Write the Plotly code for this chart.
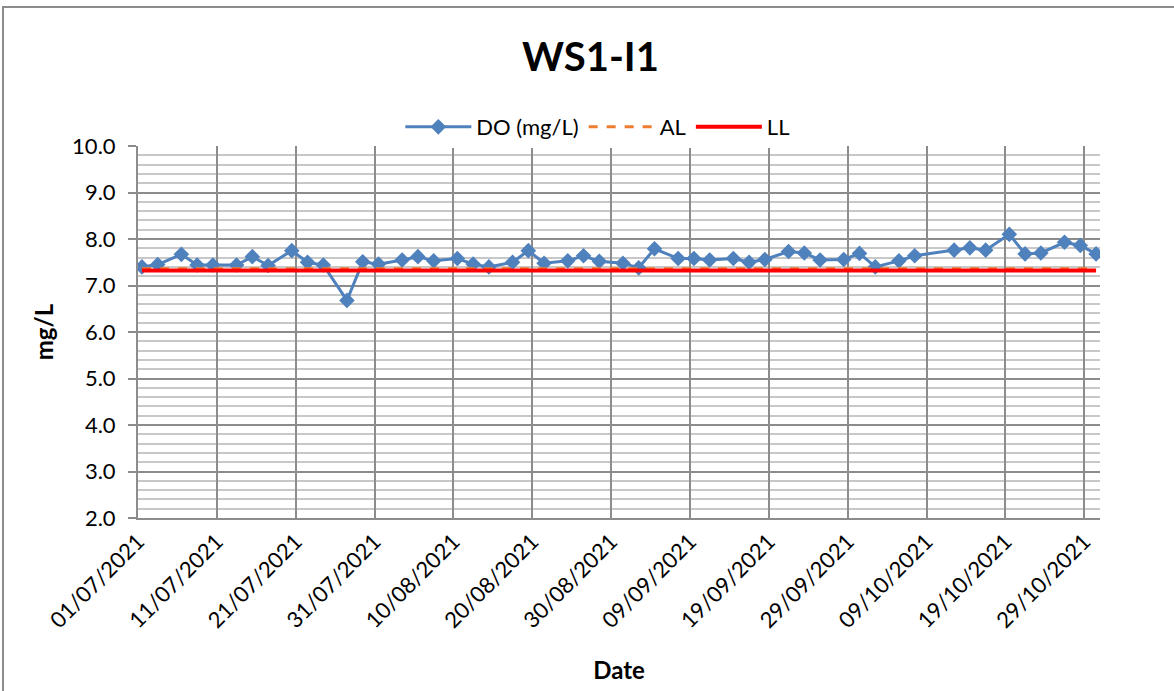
import pandas as pd
import plotly.graph_objects as go

# ---- data ----
dates = ["01/07/2021", "03/07/2021", "06/07/2021", "08/07/2021", "10/07/2021", "13/07/2021",
         "15/07/2021", "17/07/2021", "20/07/2021", "22/07/2021", "24/07/2021", "27/07/2021",
         "29/07/2021", "31/07/2021", "03/08/2021", "05/08/2021", "07/08/2021", "10/08/2021",
         "12/08/2021", "14/08/2021", "17/08/2021", "19/08/2021", "21/08/2021", "24/08/2021",
         "26/08/2021", "28/08/2021", "31/08/2021", "02/09/2021", "04/09/2021", "07/09/2021",
         "09/09/2021", "11/09/2021", "14/09/2021", "16/09/2021", "18/09/2021", "21/09/2021",
         "23/09/2021", "25/09/2021", "28/09/2021", "30/09/2021", "02/10/2021", "05/10/2021",
         "07/10/2021", "12/10/2021", "14/10/2021", "16/10/2021", "19/10/2021", "21/10/2021",
         "23/10/2021", "26/10/2021", "28/10/2021", "30/10/2021"]
do_values = [7.40, 7.45, 7.67, 7.44, 7.44, 7.44, 7.62, 7.43, 7.75, 7.50, 7.44, 6.68,
             7.51, 7.46, 7.55, 7.62, 7.53, 7.58, 7.46, 7.40, 7.50, 7.75, 7.48, 7.53,
             7.64, 7.52, 7.48, 7.38, 7.79, 7.58, 7.58, 7.55, 7.58, 7.50, 7.56, 7.73,
             7.70, 7.55, 7.56, 7.69, 7.40, 7.53, 7.64, 7.76, 7.81, 7.76, 8.10, 7.68,
             7.70, 7.93, 7.86, 7.68]
al_value = 7.36
ll_value = 7.32
tick_labels = ["01/07/2021", "11/07/2021", "21/07/2021", "31/07/2021", "10/08/2021",
               "20/08/2021", "30/08/2021", "09/09/2021", "19/09/2021", "29/09/2021",
               "09/10/2021", "19/10/2021", "29/10/2021"]
axis_start = "01/07/2021"
axis_end = "31/10/2021"

# Excel date axis places each point in the middle of its day
x = pd.to_datetime(dates, format="%d/%m/%Y") + pd.Timedelta(hours=12)
tickvals = pd.to_datetime(tick_labels, format="%d/%m/%Y")
xr = [pd.to_datetime(axis_start, format="%d/%m/%Y"), pd.to_datetime(axis_end, format="%d/%m/%Y")]

FONT = "Lato"
fig = go.Figure()
fig.add_trace(go.Scatter(x=x, y=do_values, name="DO (mg/L)", mode="lines+markers",
                         line=dict(color="#4F81BD", width=3),
                         marker=dict(symbol="diamond", size=12, color="#4F81BD")))
fig.add_trace(go.Scatter(x=[x[0], x[-1]], y=[al_value, al_value], name="AL", mode="lines",
                         line=dict(color="#ED7D31", width=3, dash="dash")))
fig.add_trace(go.Scatter(x=[x[0], x[-1]], y=[ll_value, ll_value], name="LL", mode="lines",
                         line=dict(color="#FF0000", width=4)))

fig.update_layout(
    width=1174, height=691,
    margin=dict(l=138, r=74, t=146, b=173),
    paper_bgcolor="white", plot_bgcolor="white",
    font=dict(family=FONT, size=22, color="black"),
    title=dict(text="<b>WS1-I1</b>", x=0.503, xanchor="center", y=0.918, yanchor="middle",
               font=dict(family=FONT, size=40, color="black")),
    showlegend=True,
    legend=dict(orientation="h", x=0.478, xanchor="center", y=1.051, yanchor="middle",
                font=dict(family=FONT, size=22), itemwidth=66, tracegroupgap=0),
    shapes=[dict(type="rect", xref="paper", yref="paper",
                 x0=(3 - 138) / 962, x1=(1180 - 138) / 962,
                 y0=(518 - 700) / 372, y1=(518 - 7) / 372,
                 line=dict(color="#8C8C8C", width=2), fillcolor="rgba(0,0,0,0)", layer="below")],
)
fig.update_xaxes(
    range=xr, tickvals=tickvals, ticktext=tick_labels, tickangle=-45,
    showgrid=True, gridcolor="#8C8C8C", gridwidth=2,
    showline=True, linecolor="#8C8C8C", linewidth=2,
    ticks="", tickfont=dict(family=FONT, size=22),
    title=dict(text="<b>Date</b>", font=dict(family=FONT, size=24), standoff=30),
    zeroline=False,
)
fig.update_yaxes(
    range=[2, 10], dtick=1, tickformat=".1f",
    showgrid=True, gridcolor="#8C8C8C", gridwidth=2,
    minor=dict(dtick=0.2, showgrid=True, gridcolor="#C8C8C8", gridwidth=2),
    showline=True, linecolor="#8C8C8C", linewidth=2,
    ticks="outside", ticklen=8, tickcolor="#8C8C8C", tickwidth=2,
    ticklabelstandoff=8,
    tickfont=dict(family=FONT, size=22),
    title=dict(text="<b>mg/L</b>", font=dict(family=FONT, size=24), standoff=12),
    zeroline=False,
)
fig.write_html("out.html", config={"displayModeBar": False},
               post_script="document.body.style.margin='0px';")
